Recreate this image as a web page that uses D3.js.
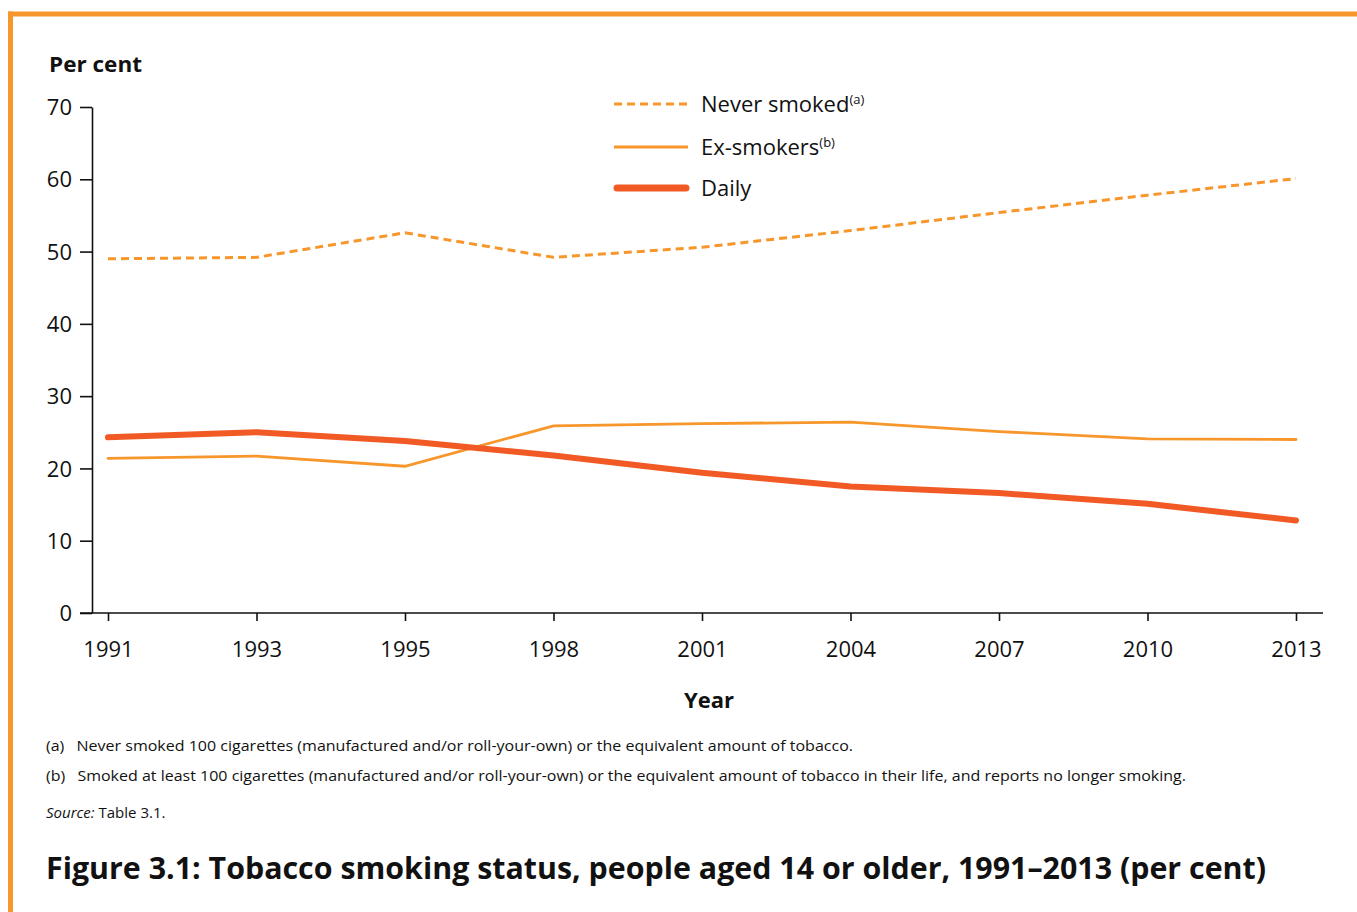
<!DOCTYPE html>
<html><head><meta charset="utf-8">
<script src="https://cdn.jsdelivr.net/npm/d3@7"></script>
<style>
html,body{margin:0;padding:0;background:#fff;}
svg text{font-family:"Open Sans","Noto Sans",sans-serif;fill:#111;}
</style></head>
<body>
<svg id="c" width="1357" height="912"></svg>
<script>
const years = ["1991","1993","1995","1998","2001","2004","2007","2010","2013"];
const neverSmoked = [49.0, 49.2, 52.6, 49.2, 50.6, 52.9, 55.4, 57.8, 60.1];
const exSmokers = [21.4, 21.7, 20.3, 25.9, 26.2, 26.4, 25.1, 24.1, 24.0];
const daily = [24.3, 25.0, 23.8, 21.8, 19.4, 17.5, 16.6, 15.1, 12.8];
const yTicks = [0, 10, 20, 30, 40, 50, 60, 70];
const seriesNames = ["Never smoked", "Ex-smokers", "Daily"];
const seriesNotes = ["(a)", "(b)", ""];
const footnotes = [
  "(a)\u2002 Never smoked 100 cigarettes (manufactured and/or roll-your-own) or the equivalent amount of tobacco.",
  "(b)\u2002 Smoked at least 100 cigarettes (manufactured and/or roll-your-own) or the equivalent amount of tobacco in their life, and reports no longer smoking."
];
const titleText = "Figure 3.1: Tobacco smoking status, people aged 14 or older, 1991\u20132013 (per cent)";

const ORANGE = "#F7962B", RED = "#F15A24";
const svg = d3.select("#c");

// frame
svg.append("line").attr("x1",8).attr("x2",1357).attr("y1",14).attr("y2",14).attr("stroke",ORANGE).attr("stroke-width",5);
svg.append("line").attr("x1",10.5).attr("x2",10.5).attr("y1",11.5).attr("y2",912).attr("stroke",ORANGE).attr("stroke-width",5);

const x = d3.scalePoint().domain(years).range([108, 1296]);
const y = d3.scaleLinear().domain([0, 70]).range([613, 107]);

// y axis
const yAxis = svg.append("g").attr("transform","translate(92,0)")
  .call(d3.axisLeft(y).tickValues(yTicks).tickSize(12).tickPadding(8).tickSizeOuter(0));
yAxis.select(".domain").attr("stroke","#111").attr("stroke-width",1.6);
yAxis.selectAll(".tick line").attr("stroke","#111").attr("stroke-width",1.6);
yAxis.selectAll(".tick text").style("font-size","22px").attr("fill","#111").attr("dy","0.35em");

// x axis
const xAxis = svg.append("g").attr("transform","translate(0,613)")
  .call(d3.axisBottom(x).tickSize(8).tickPadding(20).tickSizeOuter(0));
xAxis.select(".domain").attr("d","M80,0H1323").attr("stroke","#111").attr("stroke-width",1.6);
xAxis.selectAll(".tick line").attr("stroke","#111").attr("stroke-width",1.6);
xAxis.selectAll(".tick text").style("font-size","22px").attr("fill","#111");

// labels
svg.append("text").attr("x",49).attr("y",72).style("font-size","22px").style("font-weight","700").attr("textLength",93).attr("lengthAdjust","spacingAndGlyphs").text("Per cent");
svg.append("text").attr("x",709).attr("y",708).attr("text-anchor","middle").style("font-size","22px").style("font-weight","700").text("Year");

// lines
const line = d3.line().x((d,i)=>x(years[i])).y(d=>y(d));
svg.append("path").datum(neverSmoked).attr("d",line).attr("fill","none").attr("stroke",ORANGE).attr("stroke-width",3).attr("stroke-dasharray","8,5");
svg.append("path").datum(exSmokers).attr("d",line).attr("fill","none").attr("stroke",ORANGE).attr("stroke-width",2.8).attr("stroke-linecap","round");
svg.append("path").datum(daily).attr("d",line).attr("fill","none").attr("stroke",RED).attr("stroke-width",6).attr("stroke-linecap","round").attr("stroke-linejoin","round");

// legend
const legY = [104, 147, 188];
const styles = [
  {c:ORANGE,w:3,dash:"8,5",cap:"butt"},
  {c:ORANGE,w:3,dash:null,cap:"butt"},
  {c:RED,w:7,dash:null,cap:"round"}
];
seriesNames.forEach((n,i)=>{
  const s = styles[i];
  const x1 = s.cap==="round" ? 617 : 614, x2 = s.cap==="round" ? 686 : 688;
  const l = svg.append("line").attr("x1",x1).attr("x2",x2).attr("y1",legY[i]).attr("y2",legY[i])
    .attr("stroke",s.c).attr("stroke-width",s.w).attr("stroke-linecap",s.cap);
  if (s.dash) l.attr("stroke-dasharray",s.dash);
  const t = svg.append("text").attr("x",701).attr("y",legY[i]+8).style("font-size","22px");
  t.append("tspan").text(n);
  if (seriesNotes[i]) t.append("tspan").attr("dy",-8).style("font-size","13px").text(seriesNotes[i]);
});

// footnotes
const fnW = [807, 1140];
footnotes.forEach((f,i)=>{
  svg.append("text").attr("x",46).attr("y",751+i*30).style("font-size","15px").attr("fill","#333")
    .attr("textLength",fnW[i]).attr("lengthAdjust","spacingAndGlyphs").text(f);
});
const src = svg.append("text").attr("x",46).attr("y",818).style("font-size","15px").attr("fill","#333");
src.append("tspan").style("font-style","italic").text("Source:");
src.append("tspan").text(" Table 3.1.");

svg.append("text").attr("x",46).attr("y",879).style("font-size","31px").style("font-weight","700")
  .attr("textLength",1220).attr("lengthAdjust","spacingAndGlyphs").text(titleText);
</script>
</body></html>
